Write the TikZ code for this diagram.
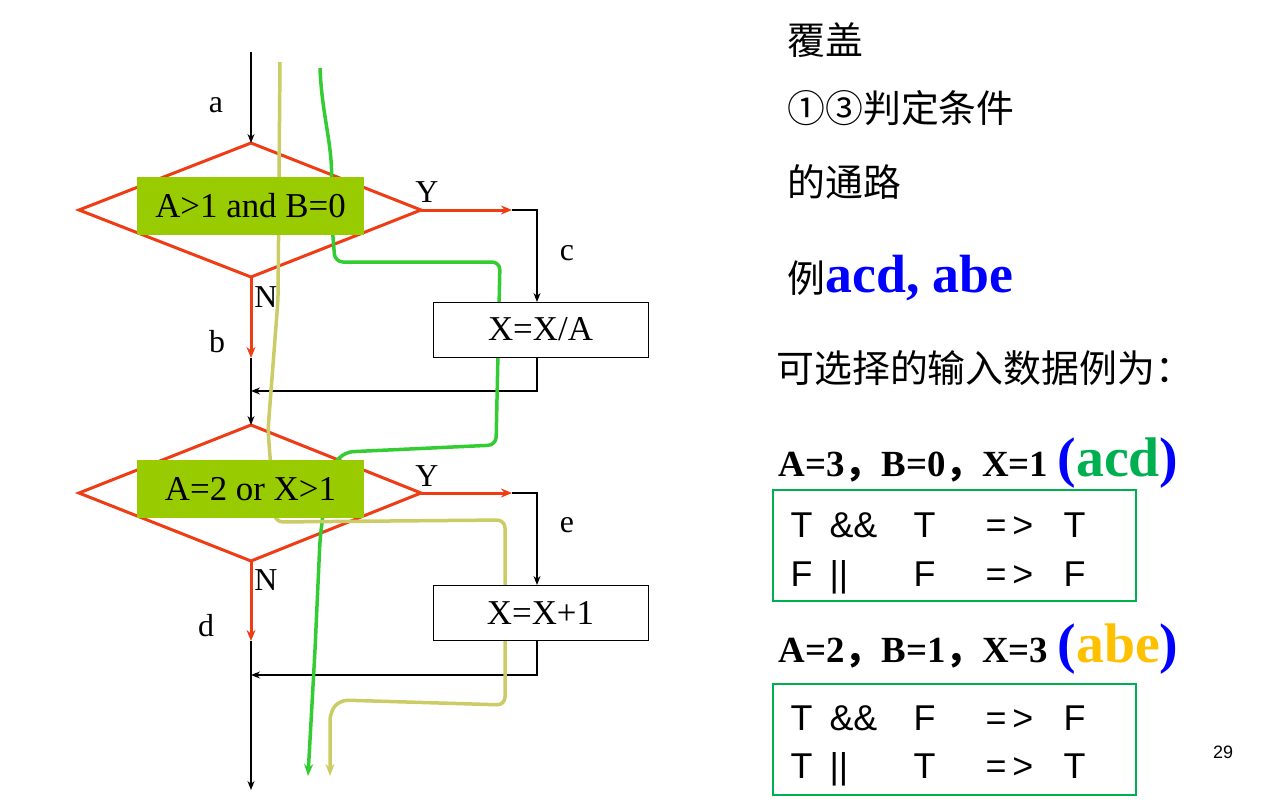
\documentclass[tikz,border=0pt]{standalone}
\usepackage{fontspec}
\setmainfont{Liberation Serif}
\newfontfamily\cjk{Noto Sans CJK SC}
\newfontfamily\sansf{Liberation Sans}
\usetikzlibrary{arrows.meta}
\definecolor{redo}{HTML}{F03C14}
\definecolor{lime}{HTML}{99CC00}
\definecolor{gpath}{HTML}{33CC33}
\definecolor{kpath}{HTML}{CCCC66}
\definecolor{gtxt}{HTML}{00B050}
\definecolor{otxt}{HTML}{FFC000}
\definecolor{bluet}{HTML}{0000FF}
\tikzset{
 blk/.style={draw=black,line width=1.2bp,-{Stealth[length=9bp,width=7bp]}},
 red/.style={draw=redo,line width=3bp,-{Stealth[length=11bp,width=9bp]}},
 dia/.style={draw=redo,line width=3bp,fill=white},
 gbox/.style={fill=lime,minimum width=227bp,minimum height=58bp,font=\fontsize{35}{37}\selectfont},
 pbox/.style={draw=black,fill=white,line width=1bp,minimum width=215bp,minimum height=55bp,font=\fontsize{35}{37}\selectfont},
 lab/.style={font=\fontsize{32}{34}\selectfont},
 cj/.style={font=\cjk\fontsize{38}{40}\selectfont,anchor=west},
 tf/.style={font=\sansf\fontsize{36}{38}\selectfont,anchor=base west},
 ebox/.style={draw=gtxt,line width=1.2bp},
 gp/.style={draw=gpath,line width=3.5bp,-{Stealth[length=12bp,width=9bp]},rounded corners=8bp},
 kp/.style={draw=kpath,line width=3.5bp,-{Stealth[length=12bp,width=9bp]},rounded corners=8bp},
}
\begin{document}
\begin{tikzpicture}[x=1bp,y=-1bp]
\useasboundingbox (0,0) rectangle (1277,807);
\draw[dia] (79,210) coordinate(d1l) -- (251,143) coordinate(d1t) -- (421,210) coordinate(d1r) -- (251,277) coordinate(d1b) -- cycle;
\draw[dia] (79,493) coordinate(d2l) -- (251,425) coordinate(d2t) -- (421,493) coordinate(d2r) -- (251,561) coordinate(d2b) -- cycle;
\coordinate (top) at (251,52);
\draw[blk] (top) -- (d1t);
\node[lab] (la) at (216,105) {a};
\coordinate (y1e) at (512,210);
\draw[red] (d1r) -- (y1e);
\coordinate (p1t) at (537,302);
\coordinate (p1b) at (537,357);
\draw[blk] (y1e) -- (537,210) -- (p1t);
\node[lab] (lY1) at (427,192) {Y};
\node[lab] (lc) at (567,253) {c};
\coordinate (j1) at (251,391);
\draw[blk] (p1b) -- (537,391) -- (j1);
\coordinate (n1e) at (251,358);
\draw[red] (d1b) -- (n1e);
\draw[blk] (n1e) -- (d2t);
\node[lab] (lN1) at (266,297) {N};
\node[lab] (lb) at (217,342) {b};
\coordinate (y2e) at (512,493);
\draw[red] (d2r) -- (y2e);
\coordinate (p2t) at (537,585);
\coordinate (p2b) at (537,640);
\draw[blk] (y2e) -- (537,493) -- (p2t);
\node[lab] (lY2) at (427,476) {Y};
\node[lab] (le) at (567,525) {e};
\coordinate (j2) at (251,675);
\draw[blk] (p2b) -- (537,675) -- (j2);
\coordinate (n2e) at (251,641);
\draw[red] (d2b) -- (n2e);
\coordinate (bot) at (251,790);
\draw[blk] (n2e) -- (bot);
\node[lab] (lN2) at (266,580) {N};
\node[lab] (ld) at (206,626) {d};
\coordinate (gs) at (320,68);
\coordinate (ge) at (308,776);
\draw[gp] (gs) .. controls (322,120) and (335,150) .. (330,200) -- (335,262) -- (500,262) -- (496,445) -- (345,452) -- (328,470) -- (320,540) -- (315,650) -- (ge);
\coordinate (ks) at (280,62);
\coordinate (ke) at (330,776);
\draw[kp] (ks) -- (278,300) -- (268,430) -- (275,522) -- (505,520) -- (505,705) -- (340,700) -- (330,712) -- (ke);
\node[gbox] (g1) at (250.5,206) {A>1 and B=0};
\node[gbox] (g2) at (250.5,489) {A=2 or X>1};
\node[pbox] (p1) at (540.5,329.5) {X=X/A};
\node[pbox] (p2) at (540.5,612.5) {X=X+1};
\node[cj] (t1) at (784,40) {覆盖};
\node[cj] (t2) at (784,108) {①③判定条件};
\node[cj] (t3) at (784,182) {的通路};
\node[cj,anchor=base west] (t4) at (784,292) {例\fontspec{Liberation Serif}\bfseries\color{bluet}\fontsize{54}{56}\selectfont acd, abe};
\node[cj] (t5) at (773,368) {可选择的输入数据例为：};
\node[anchor=base west,font=\bfseries\fontsize{37}{39}\selectfont] (t6) at (775,476) {A=3{\cjk，}B=0{\cjk，}X=1 {\fontsize{56}{58}\selectfont\color{bluet}(\textcolor{gtxt}{acd})}};
\node[anchor=base west,font=\bfseries\fontsize{37}{39}\selectfont] (t7) at (775,662) {A=2{\cjk，}B=1{\cjk，}X=3 {\fontsize{56}{58}\selectfont\color{bluet}(\textcolor{otxt}{abe})}};
\draw[ebox] (773,490) rectangle (1136,601);
\draw[ebox] (773,684) rectangle (1136,795);
\foreach \y/\a/\op/\b/\c in {537/T/\&\&/T/T, 586/F/||/F/F, 730/T/\&\&/F/F, 778/T/||/T/T}{
 \node[tf] at (787,\y) {\a};
 \node[tf] at (826,\y) {\op};
 \node[tf] at (910,\y) {\b};
 \node[tf] at (982,\y) {=\,>};
 \node[tf] at (1060,\y) {\c};
}
\node[font=\sansf\fontsize{18}{20}\selectfont] (pg) at (1223,752) {29};
\end{tikzpicture}
\end{document}
